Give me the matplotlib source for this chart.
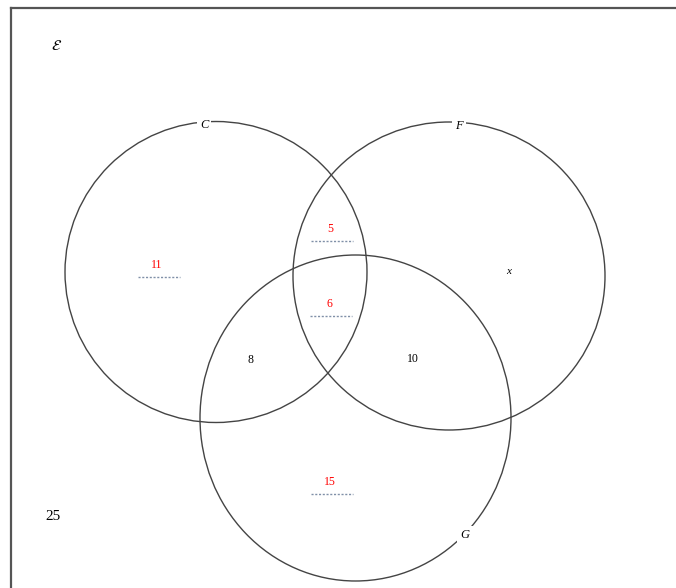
import matplotlib.pyplot as plt
from matplotlib.patches import Ellipse

# venn data
set_names = ["C", "F", "G"]
region_labels = ["11", "5", "6", "8", "10", "x", "15", "25"]
region_colours = ["red", "red", "red", "black", "black", "black", "red", "black"]
region_has_line = [True, True, True, False, False, False, True, False]

# layout (pixel coords)
circle_xy = [(216, 272), (449, 276), (355.5, 418)]
circle_wh = [(302, 301), (312, 308), (311, 326)]
name_xy = [(204, 125), (459, 126), (465, 535)]
region_xy = [(157, 265), (330, 229), (329, 304), (250, 360), (413, 359),
             (509, 272), (330, 482), (53, 516)]

fig = plt.figure(figsize=(6.76, 5.88), dpi=100)
ax = fig.add_axes([0, 0, 1, 1])
ax.set_xlim(0, 676)
ax.set_ylim(588, 0)
ax.axis("off")

# frame, only top and left visible
ax.plot([11, 676], [8, 8], color="#555555", lw=1.6)
ax.plot([11, 11], [8, 588], color="#555555", lw=1.6)

for (cx, cy), (w, h) in zip(circle_xy, circle_wh):
    ax.add_patch(Ellipse((cx, cy), w, h, fill=False, ec="#444444", lw=1.0))

for name, (tx, ty) in zip(set_names, name_xy):
    ax.text(tx, ty, name, family="Liberation Serif", style="italic", fontsize=9,
            ha="center", va="center",
            bbox=dict(boxstyle="square,pad=0.25", fc="white", ec="none"))

# universal set symbol
ax.text(57, 45, r"$\mathcal{E}$", math_fontfamily="stix", fontsize=11,
        ha="center", va="center")

for i, lab in enumerate(region_labels):
    tx, ty = region_xy[i]
    if lab == "x":
        ax.text(tx, ty, lab, family="Liberation Serif", style="italic", fontsize=8,
                ha="center", va="center", color=region_colours[i])
    elif lab == "25":
        ax.text(tx, ty, lab, family="Liberation Serif", fontsize=11,
                ha="center", va="center", color=region_colours[i])
    else:
        ax.text(tx, ty, lab, family="Liberation Serif", fontsize=8.5,
                ha="center", va="center", color=region_colours[i])
    if region_has_line[i]:
        ax.plot([tx - 19, tx + 23], [ty + 12, ty + 12], color="#8090a8",
                lw=1.0, ls=(0, (1.5, 1.2)))

fig.savefig("out.png", dpi=100)
